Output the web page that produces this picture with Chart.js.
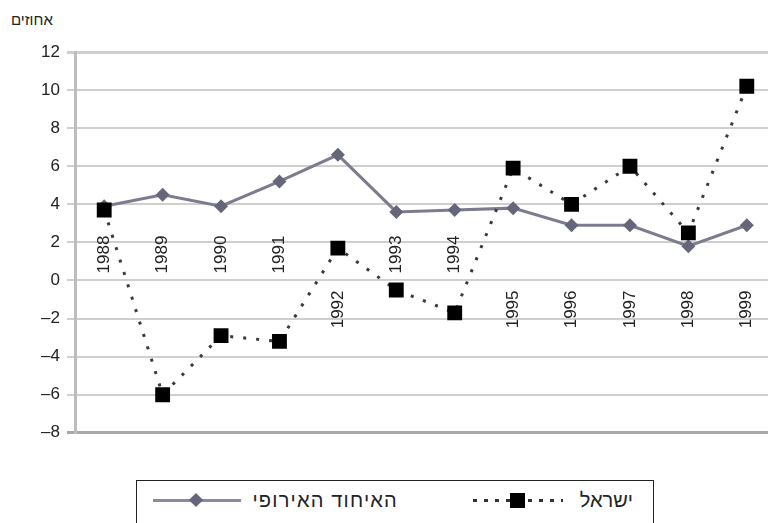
<!DOCTYPE html>
<html lang="he">
<head>
<meta charset="utf-8">
<script src="https://cdn.jsdelivr.net/npm/chart.js@4/dist/chart.umd.min.js"></script>
<style>
  html, body { margin: 0; padding: 0; width: 768px; height: 523px; overflow: hidden; background: #fff; }
  #wrap { position: absolute; left: 0; top: 0; width: 800px; height: 450px; }
  #unit { position: absolute; left: 11px; top: 11px; font: 15px "Liberation Sans", Arial, sans-serif; color: #222; direction: rtl; }
  #legend { position: absolute; left: 136px; top: 480px; width: 518px; height: 60px; border: 1px solid #222; box-sizing: border-box; font: 20px "Liberation Sans", Arial, sans-serif; color: #222; }
  .lt { position: absolute; top: 8px; direction: rtl; white-space: nowrap; text-align: right; }
  .euline { position: absolute; left: 16px; top: 18px; width: 88px; height: 3px; background: #8a8a9c; }
  .eudia { position: absolute; left: 54px; top: 14px; width: 10px; height: 10px; background: #66667a; transform: rotate(45deg); }
  .illine { position: absolute; left: 336px; top: 18px; width: 90px; height: 3px;
            background: repeating-linear-gradient(90deg, #333 0 4px, transparent 4px 11px); }
  .ilsq { position: absolute; left: 373px; top: 12px; width: 15px; height: 15px; background: #000; }
</style>
</head>
<body>
<div id="unit">אחוזים</div>
<div id="wrap"><canvas id="c"></canvas></div>
<div id="legend">
  <div class="euline"></div><div class="eudia"></div>
  <div class="lt" style="right:255px; letter-spacing:1.2px">האיחוד האירופי</div>
  <div class="illine"></div><div class="ilsq"></div>
  <div class="lt" style="right:20px">ישראל</div>
</div>
<script>
const years = ['1988','1989','1990','1991','1992','1993','1994','1995','1996','1997','1998','1999'];
const euValues = [3.9, 4.5, 3.9, 5.2, 6.6, 3.6, 3.7, 3.8, 2.9, 2.9, 1.8, 2.9];
const israelValues = [3.7, -6.0, -2.9, -3.2, 1.7, -0.5, -1.7, 5.9, 4.0, 6.0, 2.5, 10.2];
const yMin = -8, yMax = 12, yStep = 2;
const euLabel = 'האיחוד האירופי';
const israelLabel = 'ישראל';

// which year labels sit above the zero line (true) or below it (false)
const labelAbove = [true, true, true, true, false, true, true, false, false, false, false, false];

const yearLabelsPlugin = {
  id: 'yearLabels',
  afterDatasetsDraw(chart) {
    const ctx = chart.ctx;
    const xs = chart.scales.x, ys = chart.scales.y;
    const y0 = ys.getPixelForValue(0);
    ctx.save();
    ctx.font = '17px "Liberation Sans", Arial, sans-serif';
    ctx.fillStyle = '#222';
    ctx.textBaseline = 'middle';
    years.forEach((yr, i) => {
      const x = xs.getPixelForValue(i);
      ctx.save();
      if (labelAbove[i]) {
        ctx.translate(x, y0 - 7);
        ctx.rotate(-Math.PI / 2);
        ctx.textAlign = 'left';
      } else {
        ctx.translate(x, y0 + 10);
        ctx.rotate(-Math.PI / 2);
        ctx.textAlign = 'right';
      }
      ctx.fillText(yr, 0, 0);
      ctx.restore();
    });
    ctx.restore();
  }
};

new Chart(document.getElementById('c'), {
  type: 'line',
  data: {
    labels: years,
    datasets: [
      {
        label: israelLabel,
        data: israelValues,
        borderColor: '#3a3a3a',
        borderWidth: 3,
        borderDash: [3, 10],
        pointStyle: 'rect',
        pointRadius: 10.5,
        pointBackgroundColor: '#000',
        pointBorderColor: '#000',
        pointBorderWidth: 0,
        tension: 0,
        order: 0
      },
      {
        label: euLabel,
        data: euValues,
        borderColor: '#7c7c90',
        borderWidth: 3,
        pointStyle: 'rectRot',
        pointRadius: 7,
        pointBackgroundColor: '#66667a',
        pointBorderColor: '#66667a',
        pointBorderWidth: 0,
        tension: 0,
        order: 1
      }
    ]
  },
  options: {
    responsive: true,
    maintainAspectRatio: false,
    animation: false,
    devicePixelRatio: 1,
    layout: { padding: { top: 52, bottom: 17, left: 0, right: 24 } },
    plugins: { legend: { display: false }, tooltip: { enabled: false } },
    scales: {
      x: {
        display: false,
        offset: true
      },
      y: {
        min: yMin,
        max: yMax,
        afterFit(s) { s.width = 75; },
        ticks: {
          stepSize: yStep,
          padding: 7,
          color: '#222',
          font: { family: '"Liberation Sans", Arial, sans-serif', size: 17 },
          callback: v => (v < 0 ? '\u2013' + Math.abs(v) : String(v))
        },
        border: { display: true, color: '#bdbdbd', width: 3 },
        grid: {
          tickLength: 8,
          color: c => (c.tick && c.tick.value === yMin) ? '#a8a8a8' : '#cfcfcf',
          lineWidth: c => (c.tick && (c.tick.value === yMin || c.tick.value === yMax)) ? 3 : 2
        }
      }
    }
  },
  plugins: [yearLabelsPlugin]
});
</script>
</body>
</html>
